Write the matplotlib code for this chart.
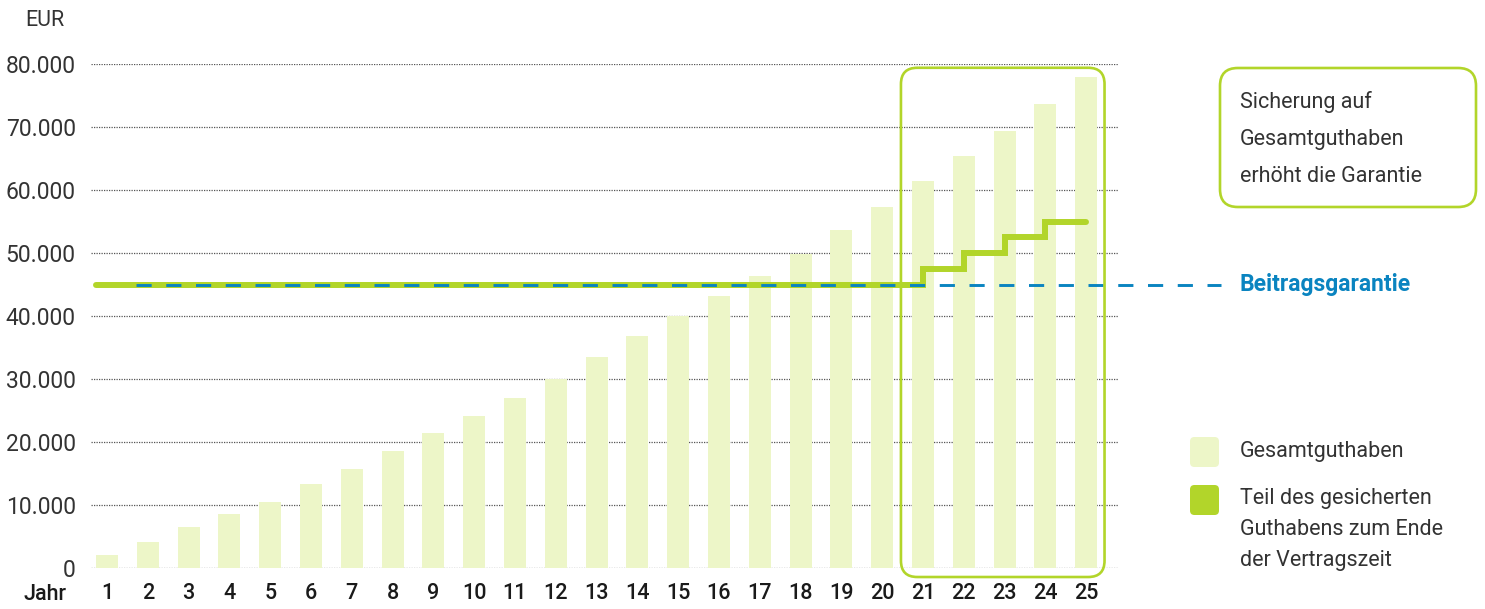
import matplotlib
matplotlib.use("Agg")
import matplotlib.pyplot as plt
from matplotlib.patches import FancyBboxPatch

plt.rcParams['font.family'] = ['Roboto', 'DejaVu Sans']

# data
years = list(range(1, 26))
total = [2000, 4100, 6500, 8600, 10500, 13300, 15700, 18600, 21400, 24100,
         27000, 30000, 33500, 36800, 40000, 43200, 46300, 49800, 53600, 57300,
         61400, 65400, 69400, 73600, 77900]
secured = [45000] * 20 + [47500, 50000, 52500, 55000, 55000]
contribution = 45000
y_ticks = [0, 10000, 20000, 30000, 40000, 50000, 60000, 70000, 80000]
y_labels = ['0', '10.000', '20.000', '30.000', '40.000', '50.000', '60.000', '70.000', '80.000']

bar_col = '#edf6c8'
lime = '#b2d52a'
blue = '#0a84c0'
txt = '#333333'
fs = 15.5
bw = 0.54

fig = plt.figure(figsize=(14.85, 6.09), dpi=100)
ax = fig.add_axes([91 / 1485, 1 - 568 / 609, 1027 / 1485, 504 / 609])

ax.bar(years, total, width=bw, color=bar_col, zorder=2)

# secured part of the balance (step line)
xs = [years[0] - bw / 2] + years
ys = [secured[0]] + secured
ax.plot(xs, ys, drawstyle='steps-post', color=lime, lw=4.3, zorder=3,
        solid_capstyle='round', solid_joinstyle='miter')

# contribution guarantee
ax.plot([1.7, 28.3], [contribution, contribution], color=blue, lw=2.1,
        dashes=(5.2, 5.0), zorder=4, clip_on=False)
ax.text(28.75, contribution, 'Beitragsgarantie', color=blue, fontsize=16.5,
        fontweight='bold', va='center', ha='left', clip_on=False)

ax.set_xlim(0.608, 25.78)
ax.set_ylim(0, 80000)
ax.set_yticks(y_ticks)
ax.set_yticklabels(y_labels, fontsize=16.5, color=txt)
ax.set_xticks(years)
ax.set_xticklabels([str(y) for y in years], fontsize=fs, color='#1a1a1a', fontweight='medium')
ax.tick_params(length=0)
ax.tick_params(axis='y', pad=11)
ax.tick_params(axis='x', pad=11)
ax.grid(axis='y', linestyle=(0, (1, 1)), color='#555555', lw=0.9, zorder=1)
for s in ax.spines.values():
    s.set_visible(False)

fig.text(25 / 1485, 1 - 20 / 609, 'EUR', fontsize=fs, color=txt, va='center', ha='left')
fig.text(24 / 1485, 1 - 595 / 609, 'Jahr', fontsize=fs, color='#1a1a1a', va='center',
         ha='left', fontweight='medium')

# rounded highlight box around years 21-25
fig.canvas.draw()
sx = ax.transData.transform((1, 0))[0] - ax.transData.transform((0, 0))[0]
sy = ax.transData.transform((0, 1))[1] - ax.transData.transform((0, 0))[1]
aspect = sx / sy
hl = FancyBboxPatch((20.46, -1430), 25.45 - 20.46, 79400 + 1430,
                    boxstyle='round,pad=0,rounding_size=0.4', mutation_aspect=aspect,
                    fill=False, ec=lime, lw=1.9, transform=ax.transData, clip_on=False, zorder=5)
ax.add_patch(hl)

# note box on the right
px = 1485
py = 609
note = FancyBboxPatch((1220 / px, 1 - 207 / py), 256 / px, 139 / py,
                      boxstyle='round,pad=0,rounding_size=0.012', mutation_aspect=px / py,
                      fill=False, ec=lime, lw=1.9, transform=fig.transFigure)
fig.add_artist(note)
fig.text(1240 / px, 1 - 139 / py, 'Sicherung auf\nGesamtguthaben\nerhöht die Garantie',
         fontsize=fs, color=txt, va='center', ha='left', linespacing=2.0)

# legend
for yc, col in [(452, bar_col), (500, lime)]:
    sq = FancyBboxPatch((1190 / px, 1 - (yc + 15) / py), 29 / px, 30 / py,
                        boxstyle='round,pad=0,rounding_size=0.003', mutation_aspect=px / py,
                        fc=col, ec='none', transform=fig.transFigure)
    fig.add_artist(sq)
fig.text(1240 / px, 1 - 452 / py, 'Gesamtguthaben', fontsize=fs, color=txt,
         va='center', ha='left')
fig.text(1240 / px, 1 - 488 / py, 'Teil des gesicherten\nGuthabens zum Ende\nder Vertragszeit',
         fontsize=fs, color=txt, va='top', ha='left', linespacing=1.62)

fig.savefig('out.png', dpi=100)
